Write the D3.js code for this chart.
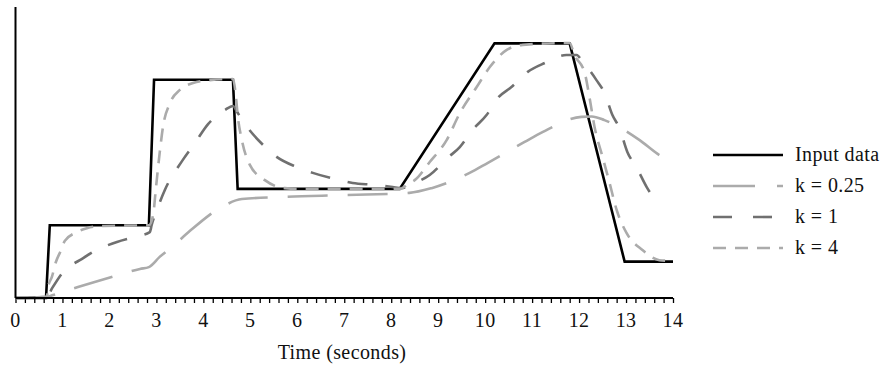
<!DOCTYPE html>
<html>
<head>
<meta charset="utf-8">
<script src="https://cdn.jsdelivr.net/npm/d3@7"></script>
<style>
  body { margin: 0; background: #fff; }
  text { font-family: "Liberation Serif", "Times New Roman", serif; fill: #111; letter-spacing: 0.4px; }
</style>
</head>
<body>
<div id="chart"></div>
<script>
// input signal (time in seconds, level)
var inputT = [0, 0.65, 0.73, 2.84, 2.95, 4.63, 4.73, 8.18, 10.2, 11.8, 12.97, 14];
var inputV = [0, 0, 2, 2, 6, 6, 3, 3, 7, 7, 1, 1];

// filtered outputs
var k025T = [0, 0.67, 0.80, 1.33, 2.18, 2.65, 2.84, 3.07, 3.33, 3.71, 4.39, 4.82, 5.69, 7.05, 8.39, 8.86, 9.67, 10.05, 10.84, 11.22, 12.05, 12.27, 12.54, 13.29, 13.71, 14];
var k025V = [0, 0.03, 0.08, 0.30, 0.63, 0.80, 0.85, 1.13, 1.40, 1.84, 2.50, 2.72, 2.78, 2.83, 2.89, 3.02, 3.44, 3.71, 4.29, 4.56, 4.98, 4.99, 4.89, 4.34, 3.93, 3.74];

var k1T = [0, 0.67, 0.78, 1.05, 1.37, 1.73, 2.16, 2.54, 2.86, 2.90, 3.01, 3.18, 3.56, 3.82, 4.10, 4.46, 4.63, 4.73, 4.95, 5.27, 5.56, 5.99, 6.33, 6.80, 7.18, 7.65, 8.03, 8.22, 8.50, 8.82, 9.20, 9.46, 9.73, 10.03, 10.27, 10.56, 10.90, 11.27, 11.73, 11.95, 12.05, 12.37, 12.54, 12.71, 12.86, 13.03, 13.22, 13.44, 13.67];
var k1V = [0, 0.03, 0.27, 0.77, 1.04, 1.32, 1.54, 1.68, 1.81, 2.01, 2.42, 2.97, 3.79, 4.26, 4.78, 5.17, 5.28, 5.09, 4.67, 4.21, 3.88, 3.60, 3.44, 3.27, 3.16, 3.11, 3.05, 3.02, 3.16, 3.38, 3.85, 4.15, 4.62, 5.03, 5.50, 5.80, 6.21, 6.46, 6.68, 6.68, 6.54, 5.99, 5.64, 5.03, 4.67, 4.01, 3.60, 3.05, 2.61];

var k4T = [0, 0.67, 0.69, 0.78, 0.86, 0.95, 1.05, 1.27, 1.52, 1.86, 2.84, 2.93, 2.99, 3.07, 3.14, 3.29, 3.50, 3.78, 4.14, 4.63, 4.69, 4.73, 4.82, 4.99, 5.31, 5.73, 6.05, 8.18, 8.39, 8.50, 8.82, 9.18, 9.46, 9.82, 10.10, 10.46, 10.80, 11.80, 11.90, 12.12, 12.22, 12.33, 12.50, 12.65, 12.80, 13.01, 13.35, 13.71, 14];
var k4V = [0, 0.03, 0.27, 0.60, 0.99, 1.26, 1.57, 1.79, 1.92, 1.98, 2.0, 2.28, 3.02, 3.99, 4.70, 5.36, 5.72, 5.91, 5.99, 6.02, 5.58, 5.03, 4.34, 3.66, 3.24, 3.02, 3.0, 3.0, 3.16, 3.24, 3.74, 4.34, 5.08, 5.80, 6.35, 6.82, 6.96, 7.01, 6.68, 6.19, 5.53, 4.70, 3.88, 3.16, 2.42, 1.79, 1.32, 1.04, 1.02];

var tickLabels = d3.range(0, 15);
var legendNames = ["Input data", "k = 0.25", "k = 1", "k = 4"];

var w = 890, h = 366;
var svg = d3.select("#chart").append("svg")
  .attr("width", w)
  .attr("height", h);

var xScale = d3.scaleLinear().domain([0, 14]).range([15.5, 673]);
var yScale = d3.scaleLinear().domain([0, 8]).range([298, 7]);

function zip(ts, vs) {
  return ts.map(function(t, i) { return [t, vs[i]]; });
}

var series = [
  { pts: zip(inputT, inputV), color: "#000", dash: null, legendDash: null, curve: d3.curveLinear },
  { pts: zip(k025T, k025V), color: "#ababab", dash: "40,20", legendDash: "42,22", curve: d3.curveMonotoneX },
  { pts: zip(k1T, k1V), color: "#707070", dash: "20,18", legendDash: "19,21", curve: d3.curveMonotoneX },
  { pts: zip(k4T, k4V), color: "#ababab", dash: "13,9", legendDash: "13,9", curve: d3.curveMonotoneX }
];

// minor ticks every 0.2 s
var ticks = d3.range(0, 70.5).map(function(i) { return i * 0.2; });
var xAxis = d3.axisBottom(xScale)
  .tickValues(ticks)
  .tickSize(5)
  .tickFormat("");

var gx = svg.append("g")
  .attr("transform", "translate(0," + yScale(0) + ")")
  .call(xAxis);
gx.select(".domain").remove();
gx.selectAll(".tick line").attr("stroke", "#000").attr("stroke-width", 1.3);

var line = d3.line()
  .x(function(d) { return xScale(d[0]); })
  .y(function(d) { return yScale(d[1]); });

series.forEach(function(s) {
  svg.append("path")
    .datum(s.pts)
    .attr("fill", "none")
    .attr("stroke", s.color)
    .attr("stroke-width", 2.6)
    .attr("stroke-dasharray", s.dash)
    .attr("d", line.curve(s.curve));
});

svg.append("line")
  .attr("x1", xScale(0)).attr("x2", xScale(14))
  .attr("y1", yScale(0)).attr("y2", yScale(0))
  .attr("stroke", "#000").attr("stroke-width", 2);

svg.append("line")
  .attr("x1", xScale(0)).attr("x2", xScale(0))
  .attr("y1", yScale(0)).attr("y2", yScale(8))
  .attr("stroke", "#000").attr("stroke-width", 2);

svg.selectAll(".xlabel")
  .data(tickLabels)
  .enter()
  .append("text")
  .attr("class", "xlabel")
  .attr("x", function(d) { return xScale(d); })
  .attr("y", 327)
  .attr("text-anchor", "middle")
  .attr("font-size", 20)
  .text(function(d) { return d; });

svg.append("text")
  .attr("x", 342)
  .attr("y", 359)
  .attr("text-anchor", "middle")
  .attr("font-size", 20)
  .text("Time (seconds)");

// legend
var legend = svg.selectAll(".legend")
  .data(series)
  .enter()
  .append("g")
  .attr("class", "legend")
  .attr("transform", function(d, i) { return "translate(713," + (155 + i * 31) + ")"; });

legend.append("line")
  .attr("x1", 0).attr("x2", 70)
  .attr("stroke", function(d) { return d.color; })
  .attr("stroke-width", 2.6)
  .attr("stroke-dasharray", function(d) { return d.legendDash; });

legend.append("text")
  .attr("x", 82)
  .attr("y", 6)
  .attr("font-size", 20)
  .text(function(d, i) { return legendNames[i]; });
</script>
</body>
</html>
